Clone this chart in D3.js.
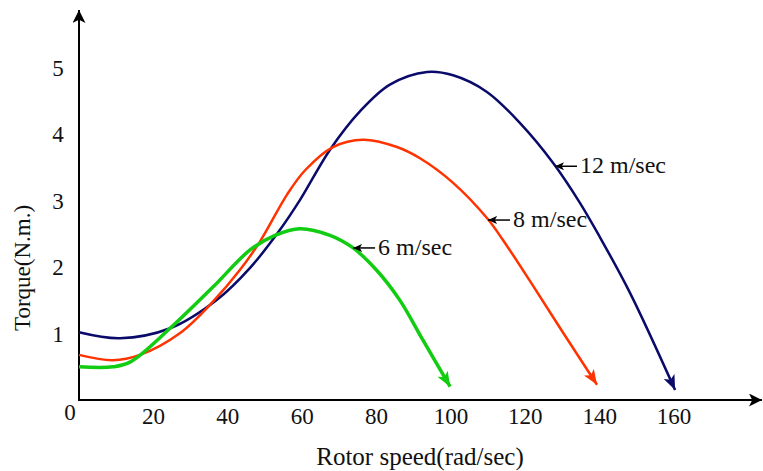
<!DOCTYPE html>
<html>
<head>
<meta charset="utf-8">
<script src="https://cdn.jsdelivr.net/npm/d3@7"></script>
<style>
  body { margin: 0; background: #fff; }
  text { font-family: "Liberation Serif", "Times New Roman", serif; fill: #111; }
</style>
</head>
<body>
<svg id="chart" width="763" height="471"></svg>
<script>
// values (rotor speed rad/sec, torque N.m.)
const speed12 = [0, 11, 24.5, 37.1, 46, 54, 59.4, 67.5, 75.6, 83.6, 93.6, 100.6, 109.7, 118.6, 127.5, 134.7, 140.1, 148.2, 160.3];
const torque12 = [1.02, 0.93, 1.08, 1.51, 1.99, 2.56, 3.01, 3.77, 4.35, 4.75, 4.94, 4.89, 4.64, 4.17, 3.57, 2.97, 2.45, 1.61, 0.15];

const speed8 = [0, 9.1, 16.4, 27.2, 36, 43.3, 48.7, 55.9, 60.8, 68.3, 76.4, 85.5, 91.7, 100.6, 109.7, 114, 121.3, 130.1, 139.3];
const torque8 = [0.68, 0.6, 0.68, 1.01, 1.48, 1.96, 2.39, 3.09, 3.46, 3.81, 3.92, 3.81, 3.64, 3.27, 2.74, 2.41, 1.79, 1.02, 0.23];

const speed6 = [0, 9.1, 13.7, 24.5, 36, 46, 52.7, 59.4, 67.5, 73.7, 80.1, 86.3, 92.5, 99.8];
const torque6 = [0.5, 0.5, 0.57, 1.08, 1.7, 2.26, 2.48, 2.58, 2.48, 2.29, 1.95, 1.5, 0.9, 0.2];

const xTicks = [20, 40, 60, 80, 100, 120, 140, 160];
const yTicks = [1, 2, 3, 4, 5];

// label name, where its arrow touches the curve
const labelNames = ['12 m/sec', '8 m/sec', '6 m/sec'];
const labelAt = [[128, 3.52], [110, 2.71], [73.7, 2.29]];

const svg = d3.select('#chart');
const x = d3.scaleLinear().domain([0, 160]).range([79, 674]);
const y = d3.scaleLinear().domain([0, 5]).range([400, 68]);

const defs = svg.append('defs');
function arrowMarker(id, color, w, h) {
  defs.append('marker')
    .attr('id', id)
    .attr('viewBox', `0 0 ${w} ${h}`)
    .attr('refX', w).attr('refY', h / 2)
    .attr('markerWidth', w).attr('markerHeight', h)
    .attr('markerUnits', 'userSpaceOnUse')
    .attr('orient', 'auto')
    .append('path')
    .attr('d', `M0,0 L${w},${h / 2} L0,${h} L${w * 0.25},${h / 2} Z`)
    .attr('fill', color);
}
arrowMarker('ax', '#000', 13, 13);
arrowMarker('a12', '#0a0a6b', 15, 12);
arrowMarker('a8', '#ff3300', 15, 12);
arrowMarker('a6', '#11cc11', 15, 12);
arrowMarker('lab', '#000', 9, 8);

// axes
svg.append('line')
  .attr('x1', x(0)).attr('y1', y(0) + 1)
  .attr('x2', x(0)).attr('y2', 10)
  .attr('stroke', '#000').attr('stroke-width', 2)
  .attr('marker-end', 'url(#ax)');
svg.append('line')
  .attr('x1', x(0) - 1).attr('y1', y(0))
  .attr('x2', 762).attr('y2', y(0))
  .attr('stroke', '#000').attr('stroke-width', 2)
  .attr('marker-end', 'url(#ax)');

svg.selectAll('.xt')
  .data(xTicks)
  .enter().append('text')
  .attr('class', 'xt')
  .attr('x', d => x(d))
  .attr('y', 424)
  .attr('text-anchor', 'middle')
  .attr('font-size', 23)
  .text(d => d);
svg.append('text')
  .attr('x', x(0) - 9).attr('y', 420)
  .attr('text-anchor', 'middle')
  .attr('font-size', 23)
  .text('0');

svg.selectAll('.yt')
  .data(yTicks)
  .enter().append('text')
  .attr('class', 'yt')
  .attr('x', 58)
  .attr('y', d => y(d))
  .attr('dy', '0.35em')
  .attr('text-anchor', 'middle')
  .attr('font-size', 23)
  .text(d => d);

svg.append('text')
  .attr('x', 420).attr('y', 465)
  .attr('text-anchor', 'middle')
  .attr('font-size', 25)
  .text('Rotor speed(rad/sec)');
svg.append('text')
  .attr('transform', 'translate(30,268) rotate(-90)')
  .attr('text-anchor', 'middle')
  .attr('font-size', 23)
  .text('Torque(N.m.)');

// curves
const line = d3.line()
  .x(d => x(d[0]))
  .y(d => y(d[1]))
  .curve(d3.curveCatmullRom.alpha(0.5));

const series = [
  {xs: speed12, ys: torque12, color: '#0a0a6b', w: 2.5, m: 'a12'},
  {xs: speed8, ys: torque8, color: '#ff3300', w: 2.5, m: 'a8'},
  {xs: speed6, ys: torque6, color: '#11cc11', w: 3.5, m: 'a6'}
];
series.forEach(s => {
  svg.append('path')
    .datum(d3.zip(s.xs, s.ys))
    .attr('d', line)
    .attr('fill', 'none')
    .attr('stroke', s.color)
    .attr('stroke-width', s.w)
    .attr('marker-end', `url(#${s.m})`);
});

// curve labels
labelNames.forEach((name, i) => {
  const px = x(labelAt[i][0]), py = y(labelAt[i][1]);
  svg.append('line')
    .attr('x1', px + 22).attr('y1', py)
    .attr('x2', px).attr('y2', py)
    .attr('stroke', '#000').attr('stroke-width', 1.5)
    .attr('marker-end', 'url(#lab)');
  svg.append('text')
    .attr('x', px + 25).attr('y', py + 7)
    .attr('font-size', 24)
    .text(name);
});
</script>
</body>
</html>
